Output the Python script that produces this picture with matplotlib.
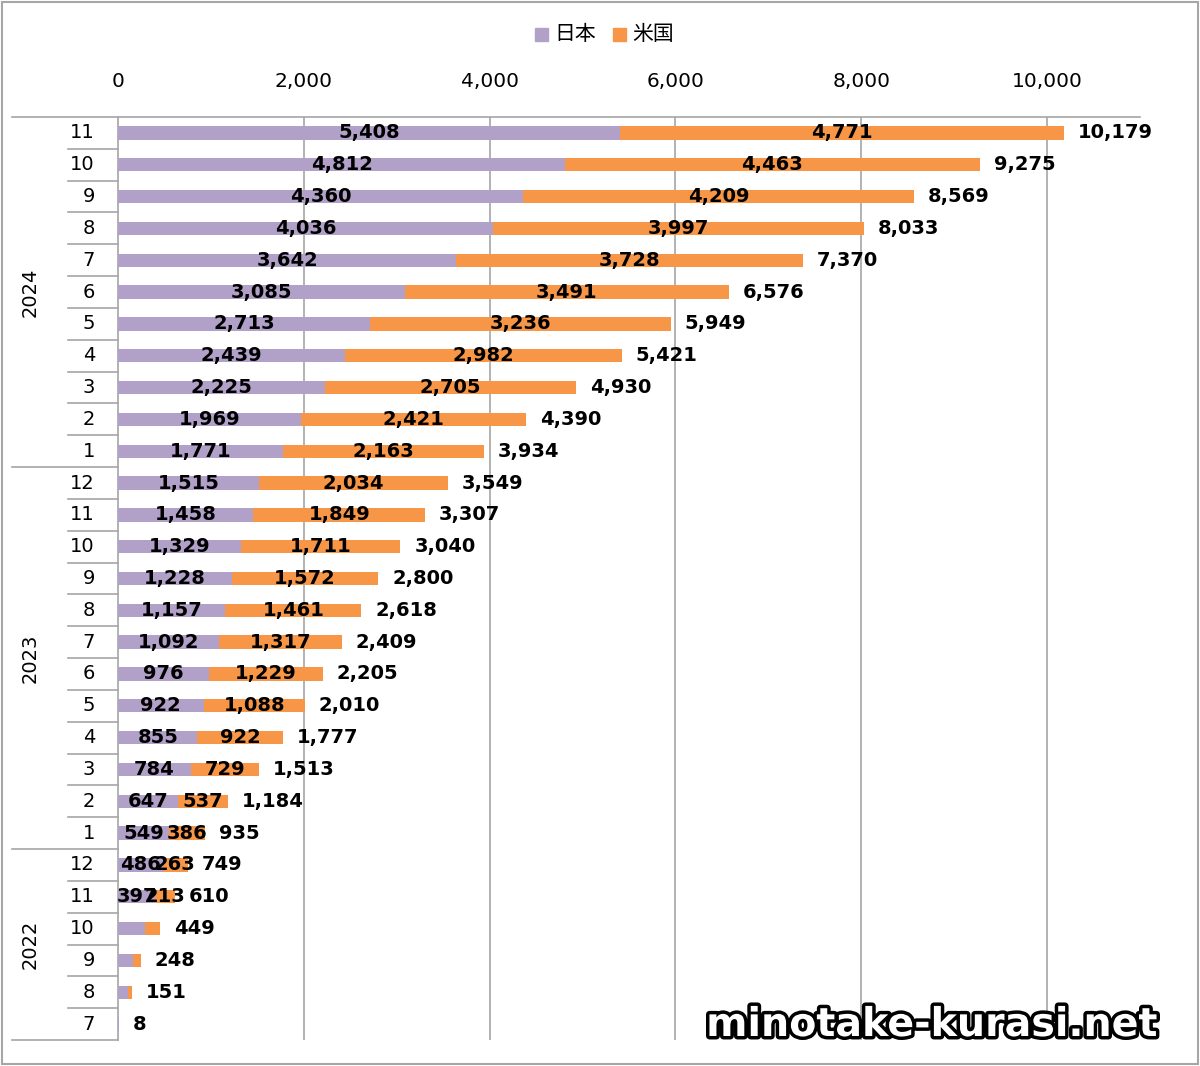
import matplotlib
matplotlib.use("Agg")
import matplotlib.pyplot as plt
import matplotlib.patheffects as pe
from matplotlib.patches import Rectangle
import numpy as np

# ---- data (chronological) ----
years = ["2022", "2023", "2024"]
months_2022 = [7, 8, 9, 10, 11, 12]
months_2023 = [1, 2, 3, 4, 5, 6, 7, 8, 9, 10, 11, 12]
months_2024 = [1, 2, 3, 4, 5, 6, 7, 8, 9, 10, 11]

japan_2022 = [8, 108, 160, 290, 397, 486]
us_2022 = [0, 43, 88, 159, 213, 263]
total_2022 = [8, 151, 248, 449, 610, 749]
show_seg_2022 = [False, False, False, False, True, True]

japan_2023 = [549, 647, 784, 855, 922, 976, 1092, 1157, 1228, 1329, 1458, 1515]
us_2023 = [386, 537, 729, 922, 1088, 1229, 1317, 1461, 1572, 1711, 1849, 2034]
total_2023 = [935, 1184, 1513, 1777, 2010, 2205, 2409, 2618, 2800, 3040, 3307, 3549]

japan_2024 = [1771, 1969, 2225, 2439, 2713, 3085, 3642, 4036, 4360, 4812, 5408]
us_2024 = [2163, 2421, 2705, 2982, 3236, 3491, 3728, 3997, 4209, 4463, 4771]
total_2024 = [3934, 4390, 4930, 5421, 5949, 6576, 7370, 8033, 8569, 9275, 10179]

series_names = ["日本", "米国"]
x_ticks = [0, 2000, 4000, 6000, 8000, 10000]

# ---- assemble (top row = latest) ----
months = months_2022 + months_2023 + months_2024
japan = japan_2022 + japan_2023 + japan_2024
us = us_2022 + us_2023 + us_2024
total = total_2022 + total_2023 + total_2024
show_seg = show_seg_2022 + [True] * (len(months_2023) + len(months_2024))
year_of = ["2022"] * len(months_2022) + ["2023"] * len(months_2023) + ["2024"] * len(months_2024)

months = months[::-1]; japan = japan[::-1]; us = us[::-1]
total = total[::-1]; show_seg = show_seg[::-1]; year_of = year_of[::-1]
n = len(months)
ypos = np.arange(n)

C_JP = "#B1A0C7"
C_US = "#F79646"
GRID = "#A6A6A6"

plt.rcParams['font.family'] = ['DejaVu Sans']
W, H = 1200, 1066
fig = plt.figure(figsize=(W / 100, H / 100), dpi=100)

L, R, T, B = 118, 1140, 117, 1040
ax = fig.add_axes([L / W, 1 - B / H, (R - L) / W, (B - T) / H])

ax.barh(ypos, japan, height=0.42, color=C_JP, zorder=3)
ax.barh(ypos, us, left=japan, height=0.42, color=C_US, zorder=3)

ax.set_xlim(0, 11000)
ax.set_ylim(n - 0.5, -0.5)
ax.xaxis.tick_top()
ax.set_xticks(x_ticks)
ax.set_xticklabels([f"{v:,}" for v in x_ticks], fontsize=14.5)
ax.tick_params(axis='x', length=0, pad=19)
ax.set_yticks([])
for s in ["right", "bottom", "top"]:
    ax.spines[s].set_visible(False)
ax.spines["left"].set_color(GRID)
ax.spines["left"].set_linewidth(1.2)
for v in x_ticks[1:]:
    ax.axvline(v, color=GRID, lw=1.2, zorder=1)

lab_fs = 14
for i in range(n):
    if show_seg[i]:
        ax.text(japan[i] / 2, ypos[i], f"{japan[i]:,}", ha="center", va="center",
                fontsize=lab_fs, fontweight="bold", zorder=5)
        ax.text(japan[i] + us[i] / 2, ypos[i], f"{us[i]:,}", ha="center", va="center",
                fontsize=lab_fs, fontweight="bold", zorder=5)
    ax.annotate(f"{total[i]:,}", xy=(japan[i] + us[i], ypos[i]), xytext=(10, 0),
                textcoords="offset points", ha="left", va="center",
                fontsize=lab_fs, fontweight="bold", zorder=5)

# ---- multi-level category axis ----
tr = ax.get_yaxis_transform()
ax_w = R - L
def axx(px):
    return (px - L) / ax_w

for i in range(n):
    ax.text(axx(95), ypos[i], str(months[i]), transform=tr, ha="right", va="center",
            fontsize=14, clip_on=False)

ax.plot([axx(12), 1.0], [-0.5, -0.5], transform=tr, color=GRID, lw=1.2, clip_on=False)
for i in range(1, n + 1):
    yb = i - 0.5
    is_year_break = (i == n) or (year_of[i] != year_of[i - 1])
    x0 = axx(12) if is_year_break else axx(68)
    ax.plot([x0, 0], [yb, yb], transform=tr, color=GRID, lw=1.2, clip_on=False)

for yr in years:
    idx = [i for i in range(n) if year_of[i] == yr]
    ax.text(axx(30), (idx[0] + idx[-1]) / 2, yr, transform=tr, rotation=90,
            ha="center", va="center", fontsize=14, clip_on=False)

# ---- legend ----
leg_y = 1 - 34 / H
fs_leg = 15
fig.patches.append(Rectangle((535 / W, 1 - 41 / H), 13 / W, 13 / H, transform=fig.transFigure,
                             color=C_JP))
fig.text(554 / W, leg_y, series_names[0], fontsize=fs_leg, va="center", ha="left",
         family=['Noto Sans CJK JP', 'DejaVu Sans'])
fig.patches.append(Rectangle((613 / W, 1 - 41 / H), 13 / W, 13 / H, transform=fig.transFigure,
                             color=C_US))
fig.text(632 / W, leg_y, series_names[1], fontsize=fs_leg, va="center", ha="left",
         family=['Noto Sans CJK JP', 'DejaVu Sans'])

# ---- frame ----
fig.patches.append(Rectangle((2 / W, 2 / H), 1 - 4 / W, 1 - 4 / H, transform=fig.transFigure,
                             fill=False, edgecolor="#A6A6A6", lw=1.5))

# ---- watermark ----
fig.text(932 / W, 1 - 1025 / H, "minotake-kurasi.net", ha="center", va="center",
         fontsize=28.5, fontweight="bold", color="white", family=['DejaVu Sans'],
         path_effects=[pe.withStroke(linewidth=5, foreground="black")], zorder=10)

fig.savefig("out.png", dpi=100, facecolor="white")
